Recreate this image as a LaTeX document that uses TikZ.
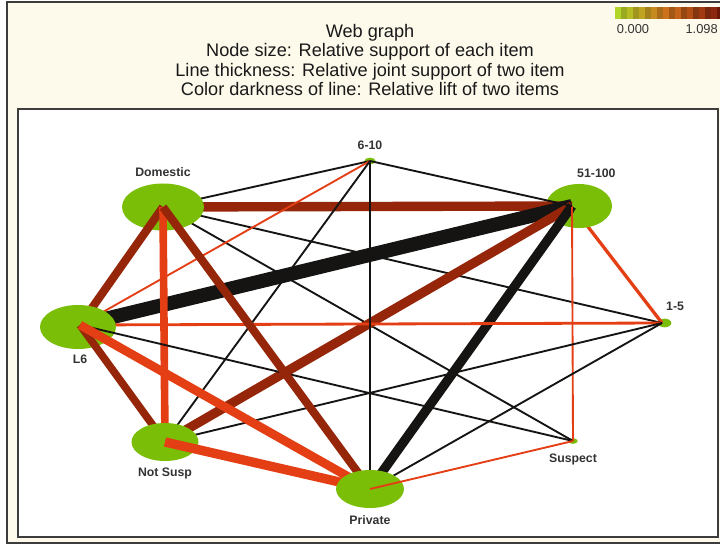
\documentclass[tikz,border=0pt]{standalone}
\usepackage{fontspec}
\setmainfont{Liberation Sans}
\usetikzlibrary{positioning,shapes.geometric}

\definecolor{itemgreen}{RGB}{122,190,8}
\definecolor{liftblack}{RGB}{22,20,18}
\definecolor{liftred}{RGB}{150,38,10}
\definecolor{liftorange}{RGB}{228,62,20}
\definecolor{panelcream}{RGB}{253,250,236}
\definecolor{framegray}{RGB}{60,60,60}
\definecolor{barlow}{RGB}{178,214,40}
\definecolor{barmid}{RGB}{205,110,28}
\definecolor{barhigh}{RGB}{130,25,12}

\tikzset{
  item/.style={ellipse, fill=itemgreen, inner sep=0pt},
  itemlabel/.style={font=\fontsize{10.5}{12}\selectfont\bfseries, text=black!80, inner sep=0pt},
  toplift/.style={draw=liftblack, line width=#1},
  highlift/.style={draw=liftred, line width=#1},
  midlift/.style={draw=liftorange, line width=#1},
}

\begin{document}
\begin{tikzpicture}[on grid]
\useasboundingbox (0,0) rectangle (21.6,-16.35);
\draw[framegray, line width=1.2pt, fill=panelcream] (0.21,-0.06) rectangle (21.75,-16.29);
\draw[framegray, line width=1.5pt, fill=white] (0.54,-3.27) rectangle (21.54,-16.11);

\node[font=\fontsize{15.5}{16.4}\selectfont, align=center, text=black!90] (title) at (11.1,-1.8)
  {Web graph\\Node size: Relative support of each item\\Line thickness: Relative joint support of two item\\Color darkness of line: Relative lift of two items};

\foreach \k in {0,...,8}{
  \pgfmathtruncatemacro\p{\k*12}
  \pgfmathtruncatemacro\s{mod(\k,2)==0 ? 100 : 85}
  \fill[barmid!\p!barlow!\s!black] (18.45+\k*0.18,-0.21) rectangle ++(0.18,-0.36);
}
\foreach \k in {9,...,17}{
  \pgfmathtruncatemacro\p{(\k-9)*12}
  \pgfmathtruncatemacro\s{mod(\k,2)==0 ? 100 : 80}
  \fill[barhigh!\p!barmid!\s!black] (18.45+\k*0.18,-0.21) rectangle ++(0.18,-0.36);
}
\node[font=\fontsize{11}{13}\selectfont, text=black!80] (barlo) at (18.99,-0.86) {0.000};
\node[font=\fontsize{11}{13}\selectfont, text=black!80, anchor=east, inner sep=0pt] (barhi) at (21.54,-0.86) {1.098};

\coordinate (c) at (11.1,-9.75);
\coordinate[above=4.92cm of c] (six);
\coordinate[above left=3.54cm and 6.21cm of c] (dom);
\coordinate[above right=3.57cm and 6.06cm of c] (fifty);
\coordinate[left=8.7cm of c] (lsix);
\coordinate[above right=0.06cm and 8.76cm of c] (one);
\coordinate[below right=3.48cm and 6.09cm of c] (susp);
\coordinate[below=4.92cm of c] (priv);
\coordinate[below left=3.51cm and 6.15cm of c] (notsusp);

\node[item, minimum width=0.34cm, minimum height=0.2cm] (sixdot) at (six) {};
\node[item, minimum width=0.4cm, minimum height=0.26cm, xshift=0.08cm] (onedot) at (one) {};
\node[item, minimum width=0.28cm, minimum height=0.17cm] (suspdot) at (susp) {};

\draw[midlift=2.8pt] (fifty) -- (one);
\node[item, minimum width=1.98cm, minimum height=1.32cm, xshift=0.21cm] (fiftydot) at (fifty) {};

\draw[toplift=1.6pt] (dom) -- (six);
\draw[highlift=8pt] (dom) -- (fifty);
\draw[toplift=1.6pt] (dom) -- (one);
\draw[toplift=1.6pt] (dom) -- (susp);
\draw[toplift=12pt] (lsix) -- (fifty);
\draw[highlift=8pt] (notsusp) -- (fifty);
\draw[toplift=8pt] (priv) -- (fifty);
\draw[midlift=1.6pt] (fifty) -- (susp);
\draw[toplift=1.6pt] (fifty) -- (six);
\node[item, minimum width=2.46cm, minimum height=1.41cm] (domdot) at (dom) {};

\draw[highlift=7pt] (dom) -- (lsix);
\draw[midlift=1.6pt] (lsix) -- (six);
\draw[midlift=2.4pt] (lsix) -- (one);
\node[item, minimum width=2.28cm, minimum height=1.32cm, xshift=-0.06cm, yshift=-0.06cm] (lsixdot) at (lsix) {};

\draw[midlift=6.5pt] (dom) -- (notsusp);
\draw[highlift=6.5pt] (lsix) -- (notsusp);
\draw[toplift=1.6pt] (notsusp) -- (six);
\draw[toplift=1.6pt] (notsusp) -- (one);
\draw[toplift=1.6pt] (lsix) -- (susp);
\node[item, minimum width=2.01cm, minimum height=1.14cm] (notsuspdot) at (notsusp) {};

\draw[midlift=8pt] (notsusp) -- (priv);
\draw[highlift=7pt] (dom) -- (priv);
\draw[midlift=7.5pt] (lsix) -- (priv);
\draw[toplift=2.2pt] (priv) -- (six);
\draw[toplift=1.6pt] (priv) -- (one);
\node[item, minimum width=2.04cm, minimum height=1.14cm] (privdot) at (priv) {};

\draw[midlift=1.6pt] (priv) -- (susp);

\node[itemlabel, above=0.9cm of dom] (domlabel) {Domestic};
\node[itemlabel, above=0.33cm of six] (sixlabel) {6-10};
\node[itemlabel, above right=0.84cm and 0.15cm of fifty] (fiftylabel) {51-100};
\node[itemlabel, above right=0.36cm and 0.12cm of one] (onelabel) {1-5};
\node[itemlabel, below=0.9cm of lsix] (lsixlabel) {L6};
\node[itemlabel, below=0.39cm of susp] (susplabel) {Suspect};
\node[itemlabel, below=0.78cm of priv] (privlabel) {Private};
\node[itemlabel, below=0.78cm of notsusp] (notsusplabel) {Not Susp};
\end{tikzpicture}
\end{document}
